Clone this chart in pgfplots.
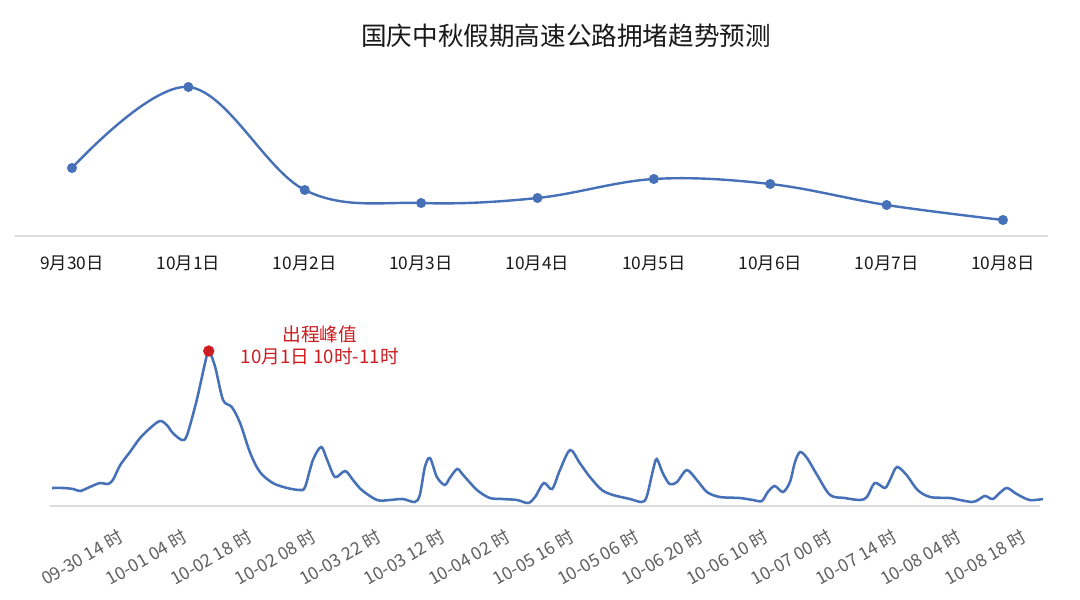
\documentclass[border=0pt]{standalone}
\usepackage{fontspec}
\setmainfont{Noto Sans CJK SC}
\usepackage{pgfplots}
\pgfplotsset{compat=1.18}
\definecolor{lineblue}{RGB}{70,112,184}
\definecolor{peakred}{RGB}{206,28,32}
\definecolor{axgray}{RGB}{220,220,220}
\definecolor{lblgray}{RGB}{95,95,95}
\begin{document}
\begin{tikzpicture}
\fill[white] (0,0) rectangle (810pt,-449.25pt);
\node[font=\fontsize{19.2}{23}\selectfont, text=black!90] at (424.5pt,-27pt) {国庆中秋假期高速公路拥堵趋势预测};

\begin{axis}[
  scale only axis, width=774.75pt, height=132pt,
  at={(11.25pt,-177pt)}, anchor=south west,
  xmin=-0.49, xmax=8.387, ymin=0, ymax=176,
  clip=false,
  axis y line=none,
  axis x line*=bottom,
  x axis line style={-, draw=axgray, line width=1.2pt},
  xtick={0,...,8},
  xticklabels={9月30日,10月1日,10月2日,10月3日,10月4日,10月5日,10月6日,10月7日,10月8日},
  major tick length=0pt,
  xticklabel style={font=\fontsize{13}{15}\selectfont, text=black!90, yshift=-11.5pt},
]
\addplot[lineblue, line width=1.8pt, smooth, tension=0.6, mark=*, mark size=2.8pt,
  mark options={fill=lineblue, draw=lineblue}]
  coordinates {(0,68)(1,149)(2,46)(3,33)(4,38)(5,57)(6,52)(7,31)(8,16)};
\end{axis}

\begin{axis}[
  scale only axis, width=742.5pt, height=154.5pt,
  at={(37.3pt,-379.5pt)}, anchor=south west,
  xmin=-0.5, xmax=214.3, ymin=0, ymax=206,
  clip=false,
  axis y line=none,
  axis x line*=bottom,
  x axis line style={-, draw=axgray, line width=1.2pt},
  xtick={14,28,...,210},
  xticklabels={09-30 14 时,10-01 04 时,10-02 18 时,10-02 08 时,10-03 22 时,10-03 12 时,10-04 02 时,10-05 16 时,10-05 06 时,10-06 20 时,10-06 10 时,10-07 00 时,10-07 14 时,10-08 04 时,10-08 18 时},
  major tick length=0pt,
  xticklabel style={font=\fontsize{13.2}{15}\selectfont, text=lblgray, rotate=30, anchor=north east, yshift=-11pt, xshift=-4.5pt},
]
\addplot[lineblue, line width=1.9pt, smooth, tension=0.5] coordinates {
(0,18)(2.4,18)(4.6,17)(6.1,15)(8.2,19)(10.4,23)(12.1,22)(13.2,26)(14.8,41)(16.9,54)(19.1,68)(21.3,78)(23.4,85)(24.9,81)(26.2,73)(28.2,66)(29.3,71)(31.4,106)(33.2,143)(34,155)(35.4,139)(37.1,106)(39.0,99)(40.8,83)(43.0,53)(45.1,34)(47.9,23)(51.0,18)(53.8,16)
(54.9,19)(56.6,46)(58.4,59)(59.7,46)(61.4,29)(63.6,35)(65.3,26)(67.2,16)(70.5,6)(73.3,6)(76.1,7)(78.7,4)(79.8,11)(80.9,39)(82.0,48)(83.5,29)(85.2,21)(86.3,28)(87.9,37)(89.2,31)(92.2,16)(95.0,8)(97.8,7)(100.9,6)(103.3,3)(104.8,9)(106.7,23)(108.5,17)
(110.2,36)(112.4,56)(114.5,43)(116.7,29)(119.3,16)(121.7,11)(125.4,7)(127.9,4)(129.0,9)(130.4,36)(131.2,47)(132.5,33)(134.0,22)(135.6,24)(137.7,36)(139.9,26)(142.1,14)(144.9,9)(149.2,8)(152.1,6)(154.0,5)(155.3,14)(156.8,20)(158.6,14)(160.1,24)(161.2,44)(162.3,54)(163.8,48)(166.0,31)(168.8,11)(172.0,8)(175.3,6)(176.8,9)(178.5,23)(180.7,18)(181.8,26)(183.3,39)(185.4,31)(187.8,16)(190.5,9)(194.8,8)(197.0,6)(199.6,4)(200.9,6)(202.4,10)(204.1,7)(205.6,13)(207.2,18)(209.3,12)(212.1,6)(215,7)
};
\addplot[only marks, mark=*, mark size=4pt, color=peakred, mark options={fill=peakred, draw=peakred}] coordinates {(34,155)};
\node[text=peakred, align=center, font=\fontsize{14}{16.5}\selectfont] at (axis cs:58.1,161) {出程峰值\\10月1日 10时-11时};
\end{axis}
\end{tikzpicture}
\end{document}
